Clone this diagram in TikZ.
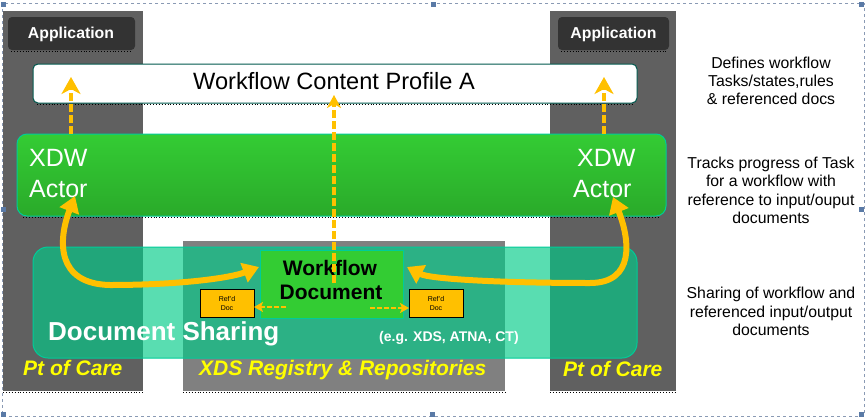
\documentclass[tikz,border=0pt]{standalone}
\usepackage{fontspec}
\setmainfont{Liberation Sans}
\usetikzlibrary{arrows.meta}
\definecolor{colgray}{HTML}{606060}
\definecolor{midgray}{HTML}{808080}
\definecolor{appgray}{HTML}{333333}
\definecolor{profborder}{HTML}{00584E}
\definecolor{greentop}{HTML}{34CC34}
\definecolor{greenbot}{HTML}{2AAA2A}
\definecolor{tealedge}{HTML}{00CC99}
\definecolor{sharefill}{RGB}{0,204,136}
\definecolor{wdgreen}{HTML}{33CC33}
\definecolor{arrowgold}{HTML}{FFC000}
\definecolor{reffill}{HTML}{FFC000}
\definecolor{careyellow}{HTML}{FFFF00}
\definecolor{framecol}{HTML}{8A9AB4}
\definecolor{handlecol}{HTML}{5A7AA6}
\begin{document}
\begin{tikzpicture}[x=1pt,y=-1pt,
  box/.style={inner sep=0pt,outer sep=0pt},
  colbox/.style={box,fill=colgray},
  midbox/.style={box,fill=midgray},
  appbox/.style={box,fill=appgray,rounded corners=4pt},
  profbox/.style={box,fill=white,draw=profborder,line width=1pt,rounded corners=5pt},
  xdwbox/.style={box,top color=greentop,bottom color=greenbot,draw=tealedge,line width=1pt,rounded corners=10pt},
  sharebox/.style={box,fill=sharefill,fill opacity=0.65,draw=tealedge,draw opacity=1,line width=1pt,rounded corners=15pt},
  wdbox/.style={box,fill=wdgreen,draw=tealedge,line width=0.6pt},
  refbox/.style={box,fill=reffill,draw=black,line width=1pt},
  txt/.style={inner sep=0pt,anchor=base},
  txtw/.style={inner sep=0pt,anchor=base west},
  apptext/.style={txt,text=white,font=\bfseries\fontsize{15.8}{18}\selectfont},
  proftext/.style={txt,font=\fontsize{23.6}{28}\selectfont},
  xdwtext/.style={txtw,text=white,font=\fontsize{25}{30}\selectfont},
  wdtext/.style={txt,font=\bfseries\fontsize{21}{24}\selectfont},
  reftext/.style={txt,font=\fontsize{7}{8}\selectfont},
  caretext/.style={txtw,text=careyellow,font=\bfseries\itshape\fontsize{21}{24}\selectfont},
  notetext/.style={txt,font=\fontsize{15.8}{18}\selectfont},
  shline/.style={black,dotted,line width=0.9pt},
  dasharr/.style={arrowgold,line width=4.5pt,dash pattern=on 8pt off 3pt,-{Stealth[length=17pt,width=19pt,inset=5pt]}},
  dasharrsmall/.style={arrowgold,line width=4.5pt,dash pattern=on 8pt off 3pt,-{Stealth[length=13pt,width=14pt,inset=4pt]}},
  refarr/.style={arrowgold,line width=2.5pt,dash pattern=on 5pt off 2pt,-{Stealth[length=9pt,width=10pt,inset=2pt]}},
  bigarr/.style={arrowgold,line width=6pt,{Triangle[length=16pt,width=20pt]}-{Triangle[length=16pt,width=20pt]}},
  handle/.style={inner sep=0pt,minimum size=5pt,fill=handlecol}
]
\useasboundingbox (0,0) rectangle (868,418);
\fill[white] (0,0) rectangle (868,418);

% columns
\node[colbox,minimum width=140pt,minimum height=380pt] (colL) at (73,201) {};
\node[colbox,minimum width=126pt,minimum height=380pt] (colR) at (613,201) {};
\node[midbox,minimum width=322pt,minimum height=150pt] (midR) at (344,316) {};
\draw[shline] ([shift={(0,1.5)}]colL.south west) -- ([shift={(0,1.5)}]colL.south east);
\draw[shline] ([shift={(0,1.5)}]colR.south west) -- ([shift={(0,1.5)}]colR.south east);
\draw[shline] ([shift={(0,1.5)}]midR.south west) -- ([shift={(0,1.5)}]midR.south east);

% application boxes
\node[appbox,minimum width=127pt,minimum height=33pt] (appL) at (71.5,33.5) {};
\node[appbox,minimum width=111pt,minimum height=33pt] (appR) at (613.5,33.5) {};
\draw[shline] ([shift={(3,1.5)}]appL.south west) -- ([shift={(-3,1.5)}]appL.south east);
\draw[shline] ([shift={(3,1.5)}]appR.south west) -- ([shift={(-3,1.5)}]appR.south east);
\node[apptext] (appLt) at (71,38) {Application};
\node[apptext] (appRt) at (613.5,38) {Application};

% profile box
\node[profbox,minimum width=604pt,minimum height=39pt] (prof) at (335,83.5) {};
\draw[shline] ([shift={(4,1.5)}]prof.south west) -- ([shift={(-4,1.5)}]prof.south east);
\node[proftext] (proft) at (334,89) {Workflow Content Profile A};

% XDW actor box
\node[xdwbox,minimum width=649pt,minimum height=82pt] (xdw) at (341.5,175) {};
\draw[shline] ([shift={(6,1.5)}]xdw.south west) -- ([shift={(-6,1.5)}]xdw.south east);
\node[xdwtext] (xdwL1) at (29,166) {XDW};
\node[xdwtext] (xdwL2) at (29,197) {Actor};
\node[xdwtext] (xdwR1) at (577,166) {XDW};
\node[xdwtext] (xdwR2) at (573,197) {Actor};

% document sharing box
\node[sharebox,minimum width=604pt,minimum height=111pt] (share) at (335,302.5) {};
\node[txtw,text=white,font=\bfseries\fontsize{26}{30}\selectfont] (sharet) at (48,340) {Document Sharing};
\node[txtw,text=white,font=\bfseries\fontsize{14}{16}\selectfont] (eg) at (379,341) {(e.g. XDS, ATNA, CT)};

% workflow document
\node[wdbox,minimum width=143pt,minimum height=68pt] (wd) at (331.5,284) {};
\node[wdtext] (wdt1) at (330,275) {Workflow};
\node[wdtext] (wdt2) at (331,299) {Document};

% ref'd docs
\node[refbox,minimum width=54pt,minimum height=28pt] (refL) at (227,303) {};
\node[refbox,minimum width=54pt,minimum height=28pt] (refR) at (436,303) {};
\node[reftext] (refLt1) at (227,301) {Ref'd};
\node[reftext] (refLt2) at (227,310) {Doc};
\node[reftext] (refRt1) at (436,301) {Ref'd};
\node[reftext] (refRt2) at (436,310) {Doc};

% bottom labels
\node[caretext] (careL) at (23,375) {Pt of Care};
\node[caretext] (careR) at (563,376) {Pt of Care};
\node[caretext] (xdsreg) at (199,375) {XDS Registry \& Repositories};

% annotations
\node[notetext] (n11) at (771,68) {Defines workflow};
\node[notetext] (n12) at (771,86) {Tasks/states,rules};
\node[notetext] (n13) at (771,104) {\& referenced docs};
\node[notetext] (n21) at (771,168) {Tracks progress of Task};
\node[notetext] (n22) at (771,186.5) {for a workflow with};
\node[notetext] (n23) at (771,205) {reference to input/ouput};
\node[notetext] (n24) at (771,223) {documents};
\node[notetext] (n31) at (771,298) {Sharing of workflow and};
\node[notetext] (n32) at (771,317) {referenced input/output};
\node[notetext] (n33) at (771,335) {documents};

% arrows
\coordinate (tL) at (71,77);
\coordinate (tR) at (604,77);
\coordinate (tM) at (334,95);
\coordinate (sM) at (334,283);
\draw[dasharr] (xdw.north -| tL) -- (tL);
\draw[dasharr] (xdw.north -| tR) -- (tR);
\draw[dasharrsmall] (sM) -- (tM);

\coordinate (rLs) at (286,307);
\coordinate (rLt) at (254,307);
\coordinate (rRs) at (370,308);
\coordinate (rRt) at (409,308);
\draw[refarr] (rLs) -- (rLt);
\draw[refarr] (rRs) -- (rRt);

\coordinate (bL1) at (75,196);
\coordinate (bL2) at (259,267);
\coordinate (bR1) at (613,197);
\coordinate (bR2) at (407,267);
\draw[bigarr] (bL1) .. controls (58,240) and (56,284) .. (110,285) .. controls (180,285) and (230,278) .. (bL2);
\draw[bigarr] (bR1) .. controls (630,240) and (635,283) .. (590,283) .. controls (500,283) and (430,279) .. (bR2);

% frame and handles
\draw[framecol,dashed,line width=0.8pt] (2,3) rectangle (864,416);
\node[handle] (h1) at (3.5,4.5) {};
\node[handle] (h2) at (433,4.5) {};
\node[handle] (h3) at (861.5,4.5) {};
\node[handle] (h4) at (3.5,209.5) {};
\node[handle] (h5) at (861.5,209.5) {};
\node[handle] (h6) at (3.5,414.5) {};
\node[handle] (h7) at (432.5,414.5) {};
\node[handle] (h8) at (861.5,414.5) {};
\end{tikzpicture}
\end{document}
